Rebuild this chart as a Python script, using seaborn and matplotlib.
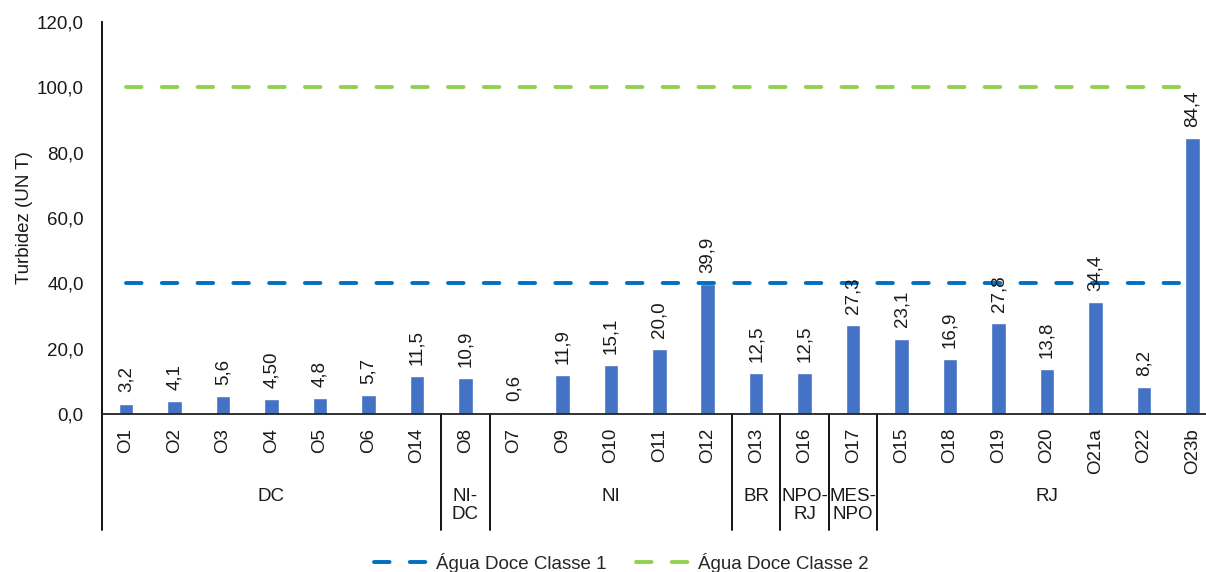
import matplotlib
matplotlib.use("Agg")
import matplotlib.pyplot as plt
from matplotlib.ticker import FuncFormatter, MultipleLocator
from matplotlib.lines import Line2D
import numpy as np
import seaborn as sns

# data
estacoes = ["O1", "O2", "O3", "O4", "O5", "O6", "O14", "O8", "O7", "O9", "O10",
            "O11", "O12", "O13", "O16", "O17", "O15", "O18", "O19", "O20",
            "O21a", "O22", "O23b"]
turbidez = [3.2, 4.1, 5.6, 4.50, 4.8, 5.7, 11.5, 10.9, 0.6, 11.9, 15.1,
            20.0, 39.9, 12.5, 12.5, 27.3, 23.1, 16.9, 27.8, 13.8, 34.4, 8.2, 84.4]
rotulos = ["3,2", "4,1", "5,6", "4,50", "4,8", "5,7", "11,5", "10,9", "0,6",
           "11,9", "15,1", "20,0", "39,9", "12,5", "12,5", "27,3", "23,1",
           "16,9", "27,8", "13,8", "34,4", "8,2", "84,4"]
grupos = ["DC", "NI-\nDC", "NI", "BR", "NPO-\nRJ", "MES-\nNPO", "RJ"]
tamanho_grupos = [7, 1, 5, 1, 1, 1, 7]
limite_classe1 = 40.0
limite_classe2 = 100.0

sns.set_style("white")
plt.rcParams["font.family"] = ["Liberation Sans", "DejaVu Sans"]
plt.rcParams["font.size"] = 13.5

fig = plt.figure(figsize=(12.06, 5.72), dpi=100)
ax = fig.add_axes([0.0844, 0.2762, 0.9245, 0.6853])

sns.barplot(x=estacoes, y=turbidez, color="#4472C4", width=0.3,
            saturation=1, ax=ax, zorder=2)

# limit lines (line series across categories)
n = len(estacoes)
xs = np.arange(n)
ax.plot(xs, np.full(n, limite_classe1), color="#0070C0", lw=2.8,
        dashes=(4.0, 5.2), dash_capstyle="round", zorder=3,
        label="Água Doce Classe 1")
ax.plot(xs, np.full(n, limite_classe2), color="#92D050", lw=2.8,
        dashes=(4.0, 5.2), dash_capstyle="round", zorder=3,
        label="Água Doce Classe 2")

# value labels
for i, (v, lab) in enumerate(zip(turbidez, rotulos)):
    ax.annotate(lab, (i, v), xytext=(0, 8), textcoords="offset points",
                rotation=90, ha="center", va="bottom", color="#1a1a1a")

ax.set_xlim(-0.5, n - 0.5)
ax.set_ylim(0, 120)
ax.yaxis.set_major_locator(MultipleLocator(20))
ax.yaxis.set_major_formatter(FuncFormatter(lambda v, p: f"{v:.1f}".replace(".", ",")))
ax.tick_params(axis="y", length=0, pad=13, labelcolor="#1a1a1a")
ax.tick_params(axis="x", length=0, pad=10, labelrotation=90, labelcolor="#1a1a1a")
ax.set_ylabel("Turbidez (UN T)", labelpad=3, color="#1a1a1a")
ax.set_xlabel("")

for s in ["top", "right"]:
    ax.spines[s].set_visible(False)
ax.spines["left"].set_color("black")
ax.spines["left"].set_linewidth(1.3)
ax.spines["bottom"].set_color("#222222")
ax.spines["bottom"].set_linewidth(1.3)

# group separators and labels below the axis
trans = ax.get_xaxis_transform()
y_bottom = -0.296
inicio = 0
limites = [-0.5]
for g, t in zip(grupos, tamanho_grupos):
    centro = inicio + (t - 1) / 2
    ax.text(centro, -0.19, g, transform=trans, ha="center", va="top",
            linespacing=1.05, color="#1a1a1a")
    inicio += t
    limites.append(inicio - 0.5)
for b in limites:
    ax.add_line(Line2D([b, b], [0, y_bottom], transform=trans, color="black",
                       lw=1.3, clip_on=False))

fig.legend(loc="center", bbox_to_anchor=(0.515, 0.016), ncol=2, frameon=False,
           handlelength=3.0, columnspacing=1.6, handletextpad=0.3)

fig.savefig("out.png", dpi=100, facecolor="white")
